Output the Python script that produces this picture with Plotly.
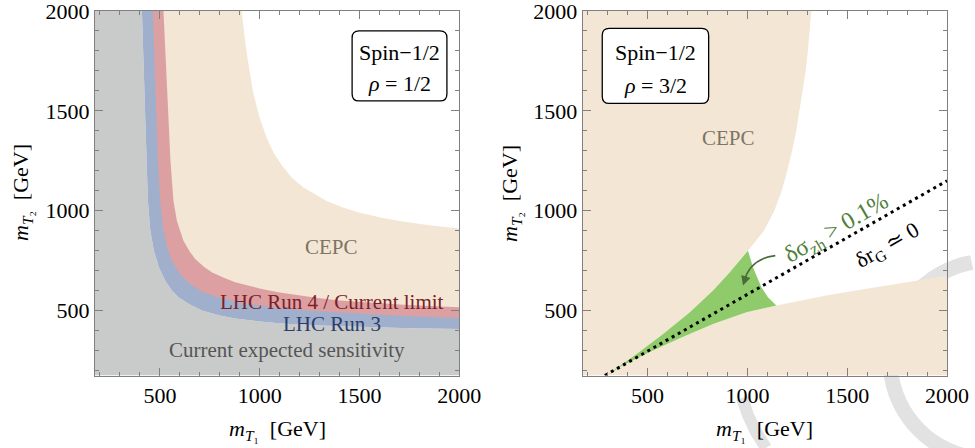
import math
import plotly.graph_objects as go

AX_MIN, AX_MAX = 175, 2000
tick_vals = [500, 1000, 1500, 2000]

# ---------------- Left panel (rho = 1/2) boundaries, GeV ----------------
run3_x = [410, 418, 425, 432, 440, 452, 470, 495, 527, 560, 593, 650, 710, 800, 877, 1000, 1110, 1300, 1500, 1750, 2000]
run3_y = [2000, 1750, 1500, 1250, 1050, 900, 800, 717, 650, 600, 567, 530, 500, 475, 460, 445, 435, 425, 418, 412, 408]

run4_x = [465, 473, 480, 490, 502, 515, 535, 560, 600, 650, 710, 793, 900, 1000, 1200, 1400, 1600, 1800, 2000]
run4_y = [2000, 1750, 1500, 1250, 1050, 920, 820, 750, 685, 635, 595, 565, 540, 525, 503, 490, 479, 470, 463]

limit_x = [518, 530, 540, 553, 568, 585, 618, 650, 677, 720, 760, 820, 877, 950, 1010, 1100, 1177, 1300, 1400, 1550, 1700, 1850, 2000]
limit_y = [2000, 1750, 1500, 1250, 1050, 950, 850, 795, 758, 720, 692, 664, 642, 622, 608, 590, 578, 562, 551, 540, 531, 523, 517]

cepcL_x = [910, 918, 926, 938, 951, 965, 980, 1000, 1035, 1070, 1110, 1160, 1218, 1280, 1335, 1420, 1501, 1600, 1701, 1850, 2000]
cepcL_y = [2000, 1920, 1860, 1770, 1680, 1605, 1540, 1465, 1366, 1290, 1229, 1166, 1118, 1080, 1049, 1015, 990, 967, 948, 927, 911]

# ---------------- Right panel (rho = 3/2) boundaries, GeV ----------------
cepcU_x = [1003, 1045, 1083, 1135, 1172, 1200, 1224, 1245, 1262, 1277, 1292, 1303, 1312, 1320]
cepcU_y = [800, 850, 900, 1000, 1100, 1200, 1300, 1400, 1500, 1600, 1700, 1800, 1900, 2000]

green_up_x = [300, 328, 445, 578, 712, 828, 912, 1003]
green_up_y = [175, 200, 283, 383, 492, 600, 692, 800]

green_right_x = [1003, 1028, 1070, 1103, 1145]
green_right_y = [800, 717, 617, 567, 525]

green_lo_x = [300, 361, 495, 661, 828, 995, 1145]
green_lo_y = [175, 218, 285, 362, 433, 492, 525]

cepcLo_x = [1145, 1270, 1395, 1520, 1645, 1770, 1895, 2000]
cepcLo_y = [525, 551, 575, 597, 617, 638, 658, 675]

dot_x = [286, 2000]
dot_y = [175, 1150]

GRAY = "#c9cbca"
BLUE = "#a0b0cc"
RED = "#dc9fa2"
BEIGE = "#f3e6d4"
GREEN = "#8fcb6a"
FONT = "Liberation Serif, DejaVu Serif, Times New Roman, serif"

fig = go.Figure()


def area(xs, ys, color, xa="x", ya="y"):
    fig.add_trace(go.Scatter(x=xs, y=ys, fill="toself", fillcolor=color, mode="lines",
                             line=dict(width=0, color=color), hoverinfo="skip",
                             showlegend=False, xaxis=xa, yaxis=ya))


# Left panel areas
area([AX_MIN, AX_MIN] + run3_x + [AX_MAX], [AX_MIN, AX_MAX] + run3_y + [AX_MIN], GRAY)
area(run3_x + [AX_MAX], run3_y + [AX_MAX], BLUE)
area(run4_x + [AX_MAX], run4_y + [AX_MAX], RED)
area(limit_x + [AX_MAX], limit_y + [AX_MAX], BEIGE)
area(cepcL_x + [AX_MAX], cepcL_y + [AX_MAX], "white")

# Right panel areas
upper_region_x = [AX_MIN, AX_MIN] + cepcU_x[::-1] + green_up_x[::-1]
upper_region_y = [AX_MIN, AX_MAX] + cepcU_y[::-1] + green_up_y[::-1]
area(upper_region_x, upper_region_y, BEIGE, "x2", "y2")
lower_region_x = green_lo_x + cepcLo_x + [AX_MAX]
lower_region_y = green_lo_y + cepcLo_y + [AX_MIN]
area(lower_region_x, lower_region_y, BEIGE, "x2", "y2")
area(green_up_x + green_right_x + green_lo_x[::-1], green_up_y + green_right_y + green_lo_y[::-1], GREEN, "x2", "y2")

fig.add_trace(go.Scatter(x=dot_x, y=dot_y, mode="lines", line=dict(color="black", width=3, dash="3px,4px"),
                         hoverinfo="skip", showlegend=False, xaxis="x2", yaxis="y2"))

W, H = 975, 448
XL = [95 / W, 459.3 / W]
XR = [582.7 / W, 947 / W]
YD = [1 - 375.5 / H, 1 - 11 / H]

axis_common = dict(
    range=[AX_MIN, AX_MAX], tickvals=tick_vals, ticks="inside", ticklen=8, tickcolor="#808080",
    tickwidth=1, showline=True, linecolor="#808080", linewidth=1, mirror="ticks",
    showgrid=False, zeroline=False, ticklabeloverflow="allow",
    tickfont=dict(family=FONT, size=22, color="black"),
    minor=dict(ticks="inside", ticklen=4, dtick=100, tickcolor="#808080", showgrid=False),
)

fig.update_layout(
    width=W, height=H, margin=dict(l=0, r=0, t=0, b=0, autoexpand=False),
    paper_bgcolor="white", plot_bgcolor="rgba(0,0,0,0)",
    xaxis=dict(domain=XL, anchor="y", **axis_common),
    yaxis=dict(domain=YD, anchor="x", **axis_common),
    xaxis2=dict(domain=XR, anchor="y2", **axis_common),
    yaxis2=dict(domain=YD, anchor="x2", **axis_common),
    showlegend=False,
)

ann = []


def txt(x, y, text, color, size=20, xref="x", yref="y", angle=0):
    ann.append(dict(x=x, y=y, xref=xref, yref=yref, text=text, showarrow=False, textangle=angle,
                    xanchor="center", yanchor="middle", font=dict(family=FONT, size=size, color=color)))


# Left panel labels
txt(1360, 817, "CEPC", "#7d7465", 21)
txt(1360, 542, "LHC Run 4 / Current limit", "#7a2026", 21)
txt(1360, 433, "LHC Run 3", "#2c3d68", 21)
txt(1135, 303, "Current expected sensitivity", "#555555", 21)
txt(1700, 1790, "Spin−1/2", "black", 22)
txt(1700, 1635, "<i>ρ</i> = 1/2", "black", 22)

# Right panel labels
txt(903, 1363, "CEPC", "#7d7465", 21, "x2", "y2")
txt(540, 1790, "Spin−1/2", "black", 22, "x2", "y2")
txt(540, 1625, "<i>ρ</i> = 3/2", "black", 22, "x2", "y2")
txt(1450, 910, "δσ<sub>zh</sub> > 0.1%", "#4f7f3a", 24, "x2", "y2", angle=-30)
txt(1703, 825, "δr<sub>G</sub> ≃ 0", "black", 22, "x2", "y2", angle=-30)

# Axis titles
title_x = "<i>m</i><sub><i>T</i>₁</sub>  [GeV]"
title_y = "<i>m</i><sub><i>T</i>₂</sub>  [GeV]"
for cx in (sum(XL) / 2, sum(XR) / 2):
    ann.append(dict(x=cx, y=1 - 430 / H, xref="paper", yref="paper", text=title_x, showarrow=False,
                    xanchor="center", yanchor="middle", font=dict(family=FONT, size=22, color="black")))
for cx in (22 / W, 511 / W):
    ann.append(dict(x=cx, y=1 - 193 / H, xref="paper", yref="paper", text=title_y, showarrow=False,
                    xanchor="center", yanchor="middle", textangle=-90,
                    font=dict(family=FONT, size=22, color="black")))

# arrow head for curved arrow
ann.append(dict(x=978, y=625, xref="x2", yref="y2", ax=992, ay=670, axref="x2", ayref="y2",
                showarrow=True, arrowhead=2, arrowsize=1.2, arrowwidth=1.6, arrowcolor="#4a6b3a", text=""))
fig.update_layout(annotations=ann)

# curved arrow body and rounded label boxes
shapes = [dict(type="path", xref="x2", yref="y2", path="M 1140,775 Q 1015,760 985,650",
               line=dict(color="#4a6b3a", width=1.6))]


def rbox(x0, x1, y0, y1, r, xref, yref):
    p = (f"M {x0 + r},{y0} L {x1 - r},{y0} Q {x1},{y0} {x1},{y0 + r} L {x1},{y1 - r} "
         f"Q {x1},{y1} {x1 - r},{y1} L {x0 + r},{y1} Q {x0},{y1} {x0},{y1 - r} "
         f"L {x0},{y0 + r} Q {x0},{y0} {x0 + r},{y0} Z")
    return dict(type="path", xref=xref, yref=yref, path=p, line=dict(color="black", width=1.3),
                fillcolor="white")


shapes.append(rbox(1463, 1938, 1550, 1900, 35, "x", "y"))
shapes.append(rbox(273, 806, 1537, 1913, 35, "x2", "y2"))


# faint page watermark arcs (decoration, pixel geometry converted to paper units)
def pix_path(pts):
    return "M " + " L ".join(f"{px / W:.5f},{1 - py / H:.5f}" for px, py in pts)


arc_a = [(989 + 99 * math.cos(math.radians(t)), 360 - 99 * math.sin(math.radians(t)))
         for t in range(100, 276, 5)]
shapes.append(dict(type="path", xref="paper", yref="paper", path=pix_path(arc_a), layer="below",
                   line=dict(color="#e2e2e2", width=15)))
arc_b = [(742, 398), (748, 415), (756, 432), (766, 448)]
shapes.append(dict(type="path", xref="paper", yref="paper", path=pix_path(arc_b), layer="below",
                   line=dict(color="#e2e2e2", width=12)))
fig.update_layout(shapes=shapes)

fig.write_html("out.html", post_script="document.body.style.margin='0px';",
               config={"displayModeBar": False})
